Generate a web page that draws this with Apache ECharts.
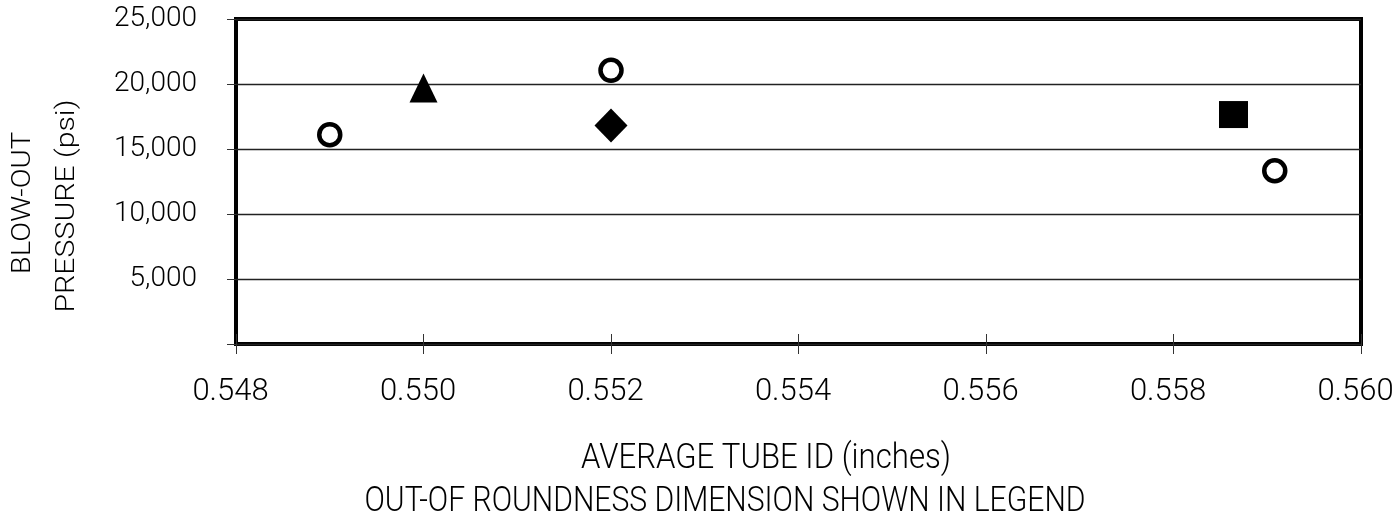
<!DOCTYPE html>
<html>
<head>
<meta charset="utf-8">
<script src="https://cdn.jsdelivr.net/npm/echarts@6/dist/echarts.min.js"></script>
<style>
html,body{margin:0;padding:0;background:#fff;}
#chart{width:1400px;height:524px;}
</style>
</head>
<body>
<div id="chart"></div>
<script>
// ---- data ----
const xTicks = [0.548, 0.550, 0.552, 0.554, 0.556, 0.558, 0.560];
const yTicks = [0, 5000, 10000, 15000, 20000, 25000];
const circlePoints = [[0.549, 16100], [0.552, 21050], [0.55908, 13330]];
const trianglePoints = [[0.550, 19700]];
const diamondPoints = [[0.552, 16800]];
const squarePoints = [[0.55864, 17650]];
const yTitleLines = ['BLOW-OUT', 'PRESSURE (psi)'];
const xTitleLines = ['AVERAGE TUBE ID (inches)', 'OUT-OF ROUNDNESS DIMENSION SHOWN IN LEGEND'];

const FONT = 'Roboto';
const chart = echarts.init(document.getElementById('chart'), null, {renderer: 'canvas'});

const xMin = xTicks[0], xMax = xTicks[xTicks.length - 1], xInt = 0.002;
const yMin = yTicks[0], yMax = yTicks[yTicks.length - 1], yInt = 5000;

function fmtThousands(v) {
  if (v === 0) return '';
  return String(Math.round(v)).replace(/\B(?=(\d{3})+(?!\d))/g, ',');
}

const option = {
  animation: false,
  backgroundColor: '#fff',
  grid: {
    left: 236, right: 39, top: 19, bottom: 180,
    show: true, borderColor: '#000', borderWidth: 4, backgroundColor: 'transparent'
  },
  xAxis: [
    {
      type: 'value', min: xMin, max: xMax, interval: xInt, position: 'bottom',
      axisLine: {show: false},
      axisTick: {show: true, inside: false, length: 10, lineStyle: {color: '#333', width: 1}},
      axisLabel: {
        show: true, margin: 33, color: '#000', fontFamily: FONT, fontWeight: 300, fontSize: 31,
        padding: [0, 11, 0, 0],
        formatter: v => v.toFixed(3)
      },
      splitLine: {show: false}
    },
    {
      type: 'value', min: xMin, max: xMax, interval: xInt, position: 'bottom',
      axisLine: {show: false},
      axisTick: {show: true, inside: true, length: 10, lineStyle: {color: '#333', width: 1}},
      axisLabel: {show: false},
      splitLine: {show: false}
    }
  ],
  yAxis: {
    type: 'value', min: yMin, max: yMax, interval: yInt,
    axisLine: {show: false},
    axisTick: {show: true, inside: false, length: 9, lineStyle: {color: '#333', width: 1}},
    axisLabel: {
      margin: 39, color: '#000', fontFamily: FONT, fontWeight: 300, fontSize: 28,
      formatter: fmtThousands
    },
    splitLine: {show: true, lineStyle: {color: '#222', width: 1.3}}
  },
  graphic: [
    {type: 'text', x: 24, y: 203, rotation: Math.PI / 2, scaleX: 1.17, z: 10,
     style: {text: yTitleLines[0], fill: '#000', font: '300 25px ' + FONT, textAlign: 'center', textVerticalAlign: 'middle'}},
    {type: 'text', x: 68, y: 206, rotation: Math.PI / 2, scaleX: 1.21, z: 10,
     style: {text: yTitleLines[1], fill: '#000', font: '300 25px ' + FONT, textAlign: 'center', textVerticalAlign: 'middle'}},
    {type: 'text', x: 766, y: 459, scaleX: 0.89, z: 10,
     style: {text: xTitleLines[0], fill: '#000', font: '300 35px ' + FONT, textAlign: 'center', textVerticalAlign: 'middle'}},
    {type: 'text', x: 725, y: 502, scaleX: 0.86, z: 10,
     style: {text: xTitleLines[1], fill: '#000', font: '300 35px ' + FONT, textAlign: 'center', textVerticalAlign: 'middle'}}
  ],
  series: [
    {
      type: 'scatter', name: 'circle', data: circlePoints,
      symbol: 'circle', symbolSize: 21,
      itemStyle: {color: '#fff', borderColor: '#000', borderWidth: 4.5, opacity: 1},
      z: 5
    },
    {
      type: 'scatter', name: 'triangle', data: trianglePoints,
      symbol: 'triangle', symbolSize: [28, 29],
      itemStyle: {color: '#000', opacity: 1}, z: 5
    },
    {
      type: 'scatter', name: 'diamond', data: diamondPoints,
      symbol: 'diamond', symbolSize: [33, 34],
      itemStyle: {color: '#000', opacity: 1}, z: 5
    },
    {
      type: 'scatter', name: 'square', data: squarePoints,
      symbol: 'rect', symbolSize: [29, 27],
      itemStyle: {color: '#000', opacity: 1}, z: 5
    }
  ]
};
chart.setOption(option);
</script>
</body>
</html>
